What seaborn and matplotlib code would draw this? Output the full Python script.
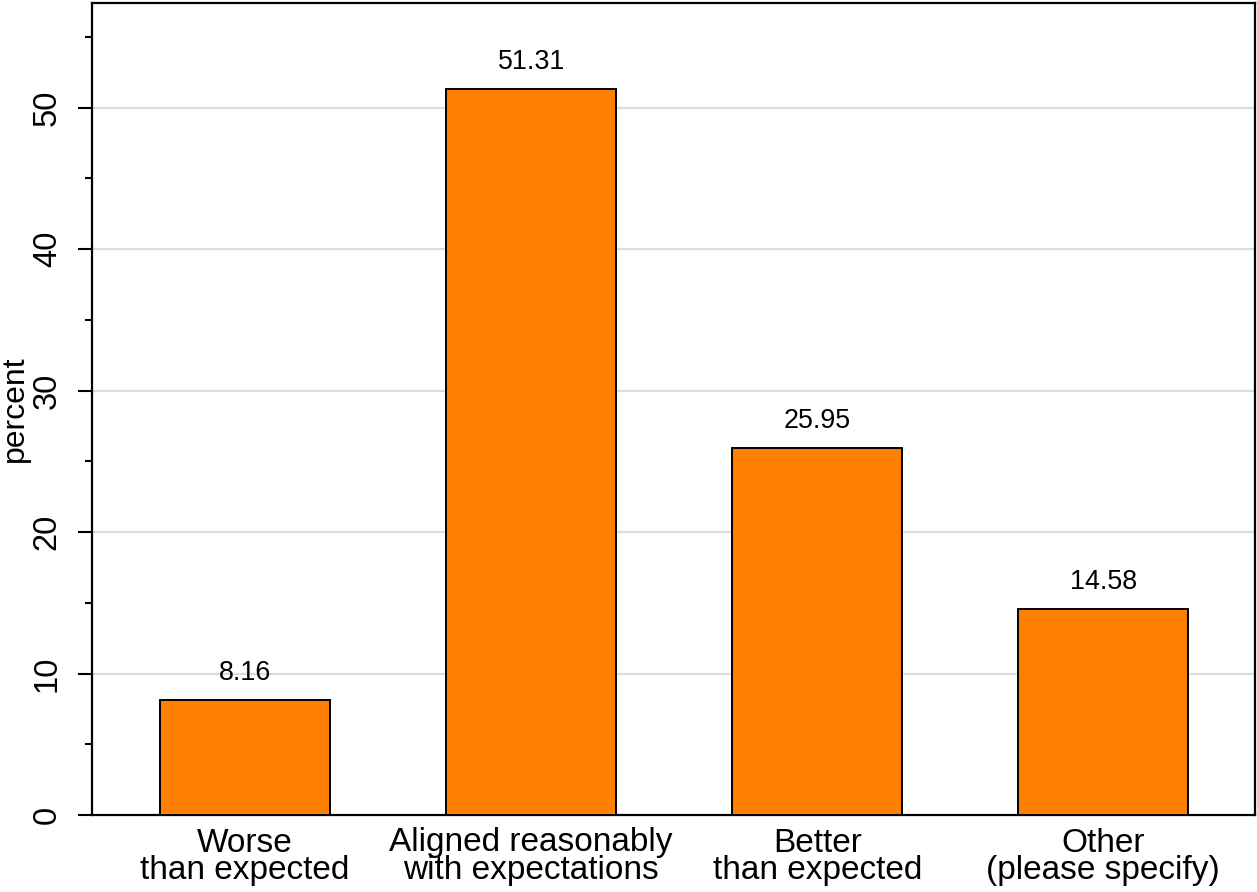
import matplotlib
matplotlib.use("Agg")
import matplotlib.pyplot as plt
import seaborn as sns
import pandas as pd
from matplotlib.ticker import MultipleLocator

categories = ["Worse\nthan expected", "Aligned reasonably\nwith expectations",
              "Better\nthan expected", "Other\n(please specify)"]
percent = [8.16, 51.31, 25.95, 14.58]
value_labels = ["8.16", "51.31", "25.95", "14.58"]
y_ticks = [0, 10, 20, 30, 40, 50]

sns.set_theme(style="white")
plt.rcParams['font.family'] = ['Liberation Sans', 'DejaVu Sans']
plt.rcParams['text.color'] = 'black'
plt.rcParams['axes.labelcolor'] = 'black'
plt.rcParams['xtick.color'] = 'black'
plt.rcParams['ytick.color'] = 'black'

df = pd.DataFrame({"category": categories, "percent": percent})

fig = plt.figure(figsize=(12.57, 8.92), dpi=100)
ax = fig.add_axes([92/1257, 77/892, (1255-92)/1257, (815-3)/892])

sns.barplot(data=df, x="category", y="percent", color="#FF8000", saturation=1,
            width=0.594, edgecolor="black", linewidth=1.4, ax=ax, zorder=3)

ax.set_xlim(-0.535, 3.53)
ax.set_ylim(0, 57.4)
ax.set_yticks(y_ticks)
ax.yaxis.set_minor_locator(MultipleLocator(5))
for t in y_ticks[1:]:
    ax.axhline(t, color="#dcdcdc", linewidth=1.6, zorder=1)

for s in ax.spines.values():
    s.set_visible(True)
    s.set_color("black")
    s.set_linewidth(1.6)

ax.tick_params(axis="y", which="major", length=10, width=1.5, color="black",
               labelsize=23.5, pad=11, left=True, direction="out")
ax.tick_params(axis="y", which="minor", length=5, width=1.5, color="black",
               left=True, direction="out")
for lab in ax.get_yticklabels():
    lab.set_rotation(90)
    lab.set_va("center")
ax.tick_params(axis="x", length=0, labelsize=24, pad=9)
for lab in ax.get_xticklabels():
    lab.set_linespacing(0.85)

ax.set_xlabel("")
ax.set_ylabel("percent", fontsize=23, va="center")
ax.yaxis.set_label_coords((15 - 92) / 1163, 0.5)

ax.bar_label(ax.containers[0], labels=value_labels, padding=10, fontsize=19.4)

fig.savefig("out.png", dpi=100)
